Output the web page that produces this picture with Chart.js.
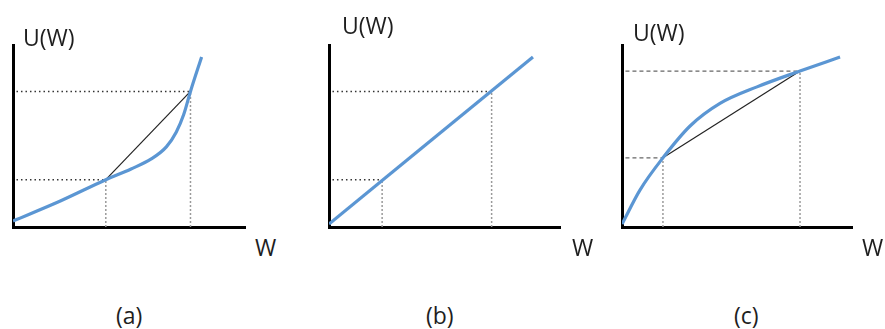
<!DOCTYPE html>
<html>
<head>
<meta charset="utf-8">
<script src="https://cdn.jsdelivr.net/npm/chart.js@4.4.1/dist/chart.umd.min.js"></script>
<style>
    body { margin: 0; width: 885px; height: 329px; background: #fff; position: relative; overflow: hidden;
           font-family: "Open Sans", sans-serif; color: #1e1e1e; }
    .panel { position: absolute; top: 35px; }
    .lbl { position: absolute; font-size: 23px; line-height: 1; white-space: nowrap; }
</style>
</head>
<body>
<div class="panel" style="left:3px"><canvas id="chartA" width="252" height="202"></canvas></div>
<div class="panel" style="left:319px"><canvas id="chartB" width="251" height="202"></canvas></div>
<div class="panel" style="left:612px"><canvas id="chartC" width="250" height="202"></canvas></div>

<div class="lbl" style="left:23px;top:26px">U(W)</div>
<div class="lbl" style="left:342px;top:14px">U(W)</div>
<div class="lbl" style="left:633px;top:21px">U(W)</div>
<div class="lbl" style="left:255px;top:236px">W</div>
<div class="lbl" style="left:572px;top:236px">W</div>
<div class="lbl" style="left:862px;top:236px">W</div>
<div class="lbl" style="left:116px;top:304px">(a)</div>
<div class="lbl" style="left:426px;top:304px">(b)</div>
<div class="lbl" style="left:734px;top:304px">(c)</div>

<script>
// (a) convex utility
var curveAW = [0, 2.04, 4.0, 5.09, 5.96, 6.61, 7.04, 7.35, 7.65, 8.13];
var curveAU = [0.33, 1.43, 2.6, 3.19, 3.74, 4.40, 5.22, 6.15, 7.45, 9.34];
var pointsAW = [4.0, 7.65];
var pointsAU = [2.6, 7.45];

// (b) linear utility
var curveBW = [0, 8.83];
var curveBU = [0.16, 9.34];
var pointsBW = [2.30, 7.04];
var pointsBU = [2.6, 7.45];

// (c) concave utility
var curveCW = [0, 0.78, 1.78, 2.96, 4.26, 5.87, 7.74, 9.48];
var curveCU = [0.16, 2.03, 3.8, 5.55, 6.79, 7.70, 8.57, 9.34];
var pointsCW = [1.78, 7.74];
var pointsCU = [3.8, 8.57];

var BLUE = '#5b96d3';

function Pairs(xs, ys) {
    return xs.map(function (x, i) { return { x: x, y: ys[i] }; });
}

function GuideLines(pw, pu, hStyle) {
    var sets = [];
    for (var i = 0; i < pw.length; i++) {
        // horizontal guide from the U axis to the point
        sets.push({
            data: [{ x: 0.15, y: pu[i] }, { x: pw[i], y: pu[i] }],
            borderColor: hStyle.color, borderWidth: hStyle.width, borderDash: hStyle.dash
        });
        // vertical guide down to the W axis
        sets.push({
            data: [{ x: pw[i], y: 0 }, { x: pw[i], y: pu[i] }],
            borderColor: '#9a9a9a', borderWidth: 1.5, borderDash: [2, 2]
        });
    }
    return sets;
}

function DrawPanel(id, cw, cu, pw, pu, chord, hStyle) {
    var datasets = [{
        data: Pairs(cw, cu),
        borderColor: BLUE, borderWidth: 3.2,
        cubicInterpolationMode: 'monotone'
    }];
    if (chord) {
        datasets.push({
            data: Pairs(pw, pu),
            borderColor: '#222', borderWidth: 1.2
        });
    }
    datasets = datasets.concat(GuideLines(pw, pu, hStyle));
    datasets.forEach(function (d) {
        d.showLine = true;
        d.pointRadius = 0;
        d.fill = false;
    });

    function axis(horizontal) {
        return {
            type: 'linear', min: 0, max: 10,
            grid: { display: false },
            ticks: { display: false },
            border: { display: true, color: '#000', width: 3 },
            // no ticks, so the axes should not eat into the plot area
            afterFit: function (scale) {
                if (horizontal) scale.height = 0; else scale.width = 0;
            }
        };
    }

    return new Chart(document.getElementById(id), {
        type: 'scatter',
        data: { datasets: datasets },
        options: {
            responsive: false,
            animation: false,
            layout: { padding: 10 },
            plugins: { legend: { display: false }, tooltip: { enabled: false } },
            scales: { x: axis(true), y: axis(false) }
        }
    });
}

DrawPanel('chartA', curveAW, curveAU, pointsAW, pointsAU, true,
    { color: '#333', width: 1.5, dash: [1.5, 3] });
DrawPanel('chartB', curveBW, curveBU, pointsBW, pointsBU, false,
    { color: '#333', width: 1.5, dash: [1.5, 3] });
DrawPanel('chartC', curveCW, curveCU, pointsCW, pointsCU, true,
    { color: '#666', width: 1.2, dash: [4, 3] });
</script>
</body>
</html>
